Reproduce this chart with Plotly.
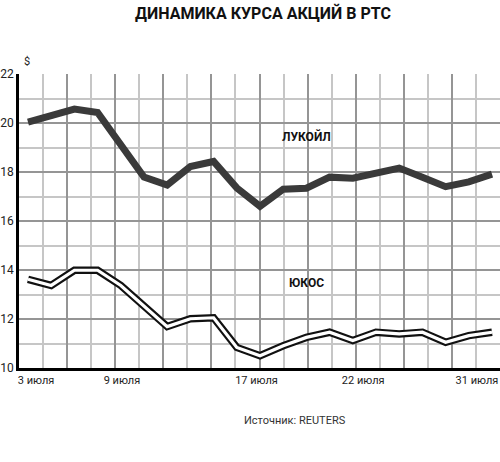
import plotly.graph_objects as go;

# торговые дни июля (индекс по оси x)
trade_days = [3, 4, 5, 8, 9, 10, 11, 12, 15, 16, 17, 18, 19, 22, 23, 24, 25, 26, 29, 30, 31];
lukoil = [20.04, 20.27, 20.57, 20.43, 19.11, 17.79, 17.47, 18.22, 18.43, 17.35, 16.60,
          17.30, 17.34, 17.79, 17.75, 17.99, 18.16, 17.79, 17.40, 17.60, 17.91];
yukos = [13.62, 13.37, 13.99, 13.99, 13.37, 12.55, 11.69, 12.01, 12.05, 10.84, 10.50,
         10.91, 11.25, 11.46, 11.12, 11.46, 11.39, 11.46, 11.05, 11.32, 11.46];
tick_labels = ['3 июля', '9 июля', '17 июля', '22 июля', '31 июля'];
tick_pos = [0.35, 4.05, 9.85, 14.45, 19.35];

x = list(range(len(trade_days)));
hover = [str(d) + ' июля' for d in trade_days];
FONT = 'Roboto, Liberation Sans, sans-serif';

fig = go.Figure();
# пустой след, чтобы ось x2 (вертикальная сетка) была нарисована
fig.add_trace(go.Scatter(x=[], y=[], xaxis='x2', hoverinfo='skip', showlegend=False));
fig.add_trace(go.Scatter(x=x, y=lukoil, mode='lines', text=hover, name='ЛУКОЙЛ',
                         line=dict(color='#3a3a3a', width=7)));
# двойная линия ЮКОСа: чёрная подложка + белая середина
fig.add_trace(go.Scatter(x=x, y=yukos, mode='lines', text=hover, name='ЮКОС',
                         line=dict(color='#111111', width=7.5)));
fig.add_trace(go.Scatter(x=x, y=yukos, mode='lines', hoverinfo='skip', name='ЮКОС',
                         line=dict(color='white', width=3.2)));

fig.update_layout(
    width=500, height=462,
    margin=dict(l=19, r=0, t=74, b=94),
    paper_bgcolor='white', plot_bgcolor='white',
    showlegend=False,
    font=dict(family=FONT, color='#222222', size=12),
    title=dict(text='<b>ДИНАМИКА КУРСА АКЦИЙ В РТС</b>', x=0.526, xanchor='center',
               y=0.972, yanchor='middle', font=dict(family=FONT, size=16, color='#111111')),
    xaxis=dict(range=[-0.388, 20.345], showgrid=False, zeroline=False, automargin=False,
               tickvals=tick_pos, ticktext=tick_labels, ticks='', ticklabeloverflow='allow',
               showline=True, linecolor='black', linewidth=2.5,
               tickfont=dict(size=11)),
    # отдельная ось только для вертикальной сетки
    xaxis2=dict(overlaying='x', anchor='y', side='bottom', range=[0, 20], automargin=False,
                showticklabels=False, ticks='', zeroline=False,
                showgrid=True, tick0=0, dtick=2, gridcolor='#959595', gridwidth=1.8,
                minor=dict(dtick=1, showgrid=True, gridcolor='#c6c6c6', gridwidth=1.5)),
    yaxis=dict(range=[10, 22], tick0=10, dtick=2, ticks='', zeroline=False, automargin=False,
               showgrid=True, gridcolor='#959595', gridwidth=1.8,
               minor=dict(dtick=1, showgrid=True, gridcolor='#c6c6c6', gridwidth=1.5),
               showline=True, linecolor='black', linewidth=2.5,
               ticklabeloverflow='allow', tickfont=dict(size=12)),
);

fig.add_annotation(text='$', xref='paper', yref='paper', x=0.006, y=1.041,
                   xanchor='left', yanchor='middle', showarrow=False, font=dict(size=11));
fig.add_annotation(text='<b>ЛУКОЙЛ</b>', x=12, y=19.44, showarrow=False,
                   font=dict(size=12, color='#111111'));
fig.add_annotation(text='<b>ЮКОС</b>', x=12, y=13.45, showarrow=False,
                   font=dict(size=12, color='#111111'));
fig.add_annotation(text='Источник: REUTERS', xref='paper', yref='paper', x=0.574, y=-0.18,
                   xanchor='center', yanchor='middle', showarrow=False,
                   font=dict(size=11, color='#333333'));

# убрать отступ body, чтобы график занял всё окно
fig.write_html('out.html', config={'displayModeBar': False},
               post_script="document.body.style.margin='0';");
